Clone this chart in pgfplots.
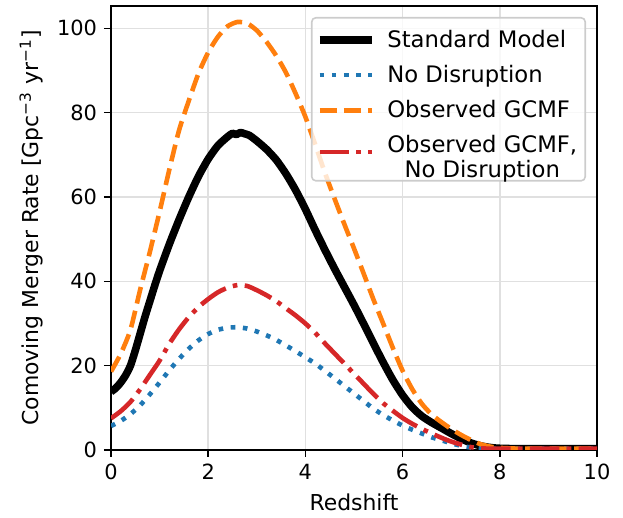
\documentclass[border=0pt]{standalone}
\usepackage{pgfplots}
\pgfplotsset{compat=1.18}
\usepackage{fontspec}
\setmainfont{DejaVu Sans}

\definecolor{tabblue}{HTML}{1F77B4}
\definecolor{taborange}{HTML}{FF7F0E}
\definecolor{tabred}{HTML}{D62728}

\begin{document}
\begin{tikzpicture}[font=\fontsize{11}{13}\selectfont]
\begin{axis}[
    scale only axis,
    width=243bp, height=222bp,
    xmin=0, xmax=10, ymin=0, ymax=105.3,
    xtick={0,2,4,6,8,10},
    ytick={0,20,40,60,80,100},
    tick align=outside,
    major tick length=3.5bp,
    xtick pos=bottom, ytick pos=left,
    axis line style={line width=0.8bp},
    every tick/.style={black, line width=0.8bp},
    grid=major,
    major grid style={line width=0.8bp, black!12},
    /pgf/number format/assume math mode=true,
    tick label style={font=\fontsize{10.5}{12}\selectfont},
    xlabel={Redshift},
    ylabel={Comoving Merger Rate [Gpc\textsuperscript{−3} yr\textsuperscript{−1}]},
    legend style={at={(1,1)}, anchor=north east, xshift=-5.5bp, yshift=-5.5bp,
        draw=black!20, line width=0.8bp, rounded corners=2bp,
        fill=white, fill opacity=0.8, text opacity=1,
        font=\fontsize{11.4}{12.5}\selectfont, row sep=3.5bp, column sep=4bp,
        inner xsep=2bp, inner ysep=4bp},
    legend cell align=left,
    legend image code/.code={\draw[#1] (0bp,0bp) -- (26bp,0bp);},
]
\addplot[black, line width=3.8bp, line join=round, smooth, tension=0.4] coordinates {
(0,13.8) (0.1,14.7) (0.2,16) (0.3,17.7) (0.4,20) (0.5,23.6) (0.6,27.6)
(0.7,31.6) (0.8,35.3) (0.9,39) (1.0,42.5) (1.2,48.8) (1.4,54.6) (1.6,60.0)
(1.8,64.9) (2.0,69.0) (2.2,72.2) (2.4,74.3) (2.5,75.1) (2.58,74.8) (2.66,75.3)
(2.75,75.0) (2.85,74.6) (3.0,73.3) (3.2,71.3) (3.4,68.8) (3.6,65.5) (3.8,61.6)
(4.0,57.1) (4.2,52.2) (4.4,47.5) (4.6,43.0) (4.8,38.7) (5.0,34.4) (5.2,29.9)
(5.4,25.3) (5.6,20.8) (5.8,16.6) (6.0,13.0) (6.2,10.1) (6.4,8.0) (6.6,6.5)
(6.8,5.2) (7.0,3.9) (7.2,2.7) (7.4,1.7) (7.6,1.0) (7.8,0.6) (8.0,0.4)
(8.5,0.3) (10,0.3)
};
\addlegendentry{Standard Model}
\addplot[tabblue, line width=2.3bp, dash pattern=on 2.3bp off 3.8bp, smooth, tension=0.4] coordinates {
(0,5.7) (0.2,6.9) (0.4,8.5) (0.6,10.6) (0.8,13.2) (1.0,16.0) (1.2,18.9)
(1.4,21.6) (1.6,24.0) (1.8,26.0) (2.0,27.5) (2.2,28.5) (2.4,29.0) (2.6,29.1)
(2.8,28.8) (3.0,28.1) (3.2,27.2) (3.4,26.1) (3.6,24.8) (3.8,23.4) (4.0,22.0)
(4.2,20.5) (4.4,18.8) (4.6,17.0) (4.8,15.2) (5.0,13.4) (5.2,11.6) (5.4,9.8)
(5.6,8.3) (5.8,7.0) (6.0,5.8) (6.2,4.8) (6.4,3.9) (6.6,3.0) (6.8,2.3)
(7.0,1.6) (7.2,1.0) (7.4,0.6) (7.6,0.4) (8,0.3) (10,0.3)
};
\addlegendentry{No Disruption}
\addplot[taborange, line width=2.3bp, dash pattern=on 8.5bp off 3.7bp, smooth, tension=0.4] coordinates {
(0,18.6) (0.2,22.8) (0.4,28.5) (0.6,38) (0.8,47) (1.0,56.5) (1.2,66.5)
(1.4,75.8) (1.6,82.8) (1.8,89.3) (2.0,94.3) (2.2,98) (2.4,100.5) (2.6,101.5)
(2.8,101.2) (3.0,99.5) (3.2,96.8) (3.4,93.5) (3.6,89.5) (3.8,84.5) (4.0,79)
(4.2,72.5) (4.4,65.8) (4.6,59.6) (4.8,53.6) (5.0,47.8) (5.2,41.8) (5.4,35.7)
(5.6,30.0) (5.8,24.2) (6.0,18.8) (6.2,14.4) (6.4,10.9) (6.6,8.4) (6.8,6.6)
(7.0,5.0) (7.2,3.6) (7.4,2.4) (7.6,1.4) (7.8,0.8) (8.0,0.5) (8.5,0.3) (10,0.3)
};
\addlegendentry{Observed GCMF}
\addplot[tabred, line width=2.3bp, dash pattern=on 14.7bp off 3.7bp on 2.3bp off 3.7bp, smooth, tension=0.4] coordinates {
(0,7.5) (0.2,9.2) (0.4,11.4) (0.6,14.4) (0.8,17.8) (1.0,21.2) (1.2,25.2)
(1.4,28.6) (1.6,31.5) (1.8,33.9) (2.0,35.8) (2.2,37.4) (2.4,38.5) (2.6,39.1)
(2.8,38.9) (3.0,37.9) (3.2,36.7) (3.4,35.3) (3.6,33.6) (3.8,31.9) (4.0,30.0)
(4.2,27.8) (4.4,25.3) (4.6,22.9) (4.8,20.5) (5.0,18.1) (5.2,15.7) (5.4,13.3)
(5.6,11.1) (5.8,9.3) (6.0,7.6) (6.2,6.2) (6.4,5.0) (6.6,3.9) (6.8,2.9)
(7.0,2.0) (7.2,1.3) (7.4,0.7) (7.6,0.4) (8,0.3) (10,0.3)
};
\addlegendentry{\begin{tabular}{@{}c@{}}Observed GCMF,\\No Disruption\end{tabular}}
\end{axis}
\path (-55.5bp,-33bp) rectangle (256bp,225bp);
\end{tikzpicture}
\end{document}
